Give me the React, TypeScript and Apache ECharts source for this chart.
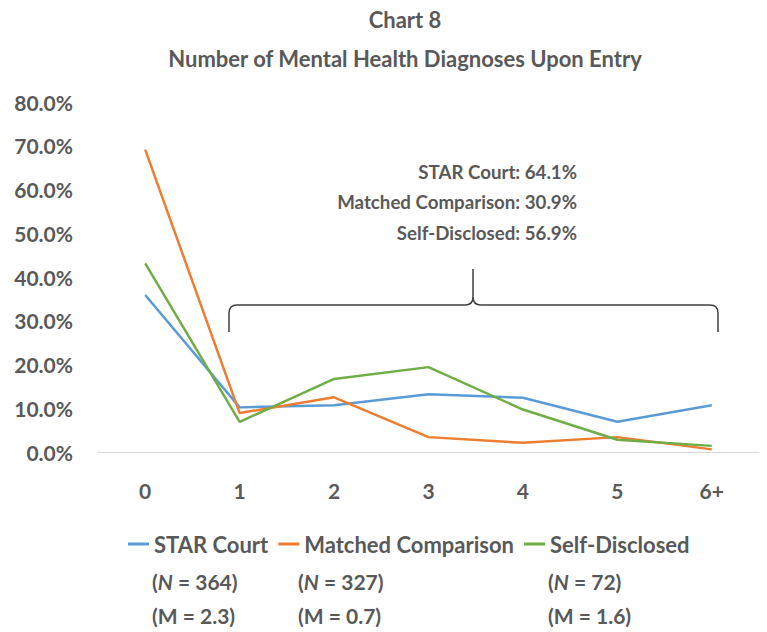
import React, { useEffect, useRef } from "react";
import * as echarts from "echarts";

const categories = ["0", "1", "2", "3", "4", "5", "6+"];
const seriesNames = ["STAR Court", "Matched Comparison", "Self-Disclosed"];
const starCourt = [35.9, 10.2, 10.7, 13.2, 12.4, 6.9, 10.7];
const matched = [69.1, 8.9, 12.5, 3.4, 2.1, 3.4, 0.6];
const selfDisclosed = [43.1, 6.9, 16.7, 19.4, 9.7, 2.8, 1.4];
const sampleN = [364, 327, 72];
const meanM = [2.3, 0.7, 1.6];
const bracketTotals = [64.1, 30.9, 56.9];
const colors = ["#5B9BD5", "#ED7D31", "#70AD47"];

const FONT = "Lato, 'Open Sans', sans-serif";
const TXT = "#595959";
const FS = 21;

const braceD =
  "M229 332 L229 313 Q229 305 237 305 L465 305 Q473 305 473 297 L473 269 M473 297 Q473 305 481 305 L710 305 Q718 305 718 313 L718 332";

let registered = false;

export default function App() {
  const ref = useRef<HTMLDivElement>(null);
  useEffect(() => {
    if (!registered) {
      echarts.graphic.registerShape("brace", echarts.graphic.extendPath(braceD, {}));
      registered = true;
    }
    const chart = echarts.init(ref.current!, null, { renderer: "svg" });
    const legendX = [152, 298, 548];
    const graphic: any[] = [];
    legendX.forEach((x, i) => {
      graphic.push({
        type: "text",
        x,
        y: 581,
        style: {
          text: `{p|(}{i|N}{p| = ${sampleN[i]})}`,
          textVerticalAlign: "middle",
          rich: {
            p: { fontFamily: FONT, fontSize: FS, fontWeight: "bold", fill: TXT },
            i: { fontFamily: FONT, fontSize: FS, fontWeight: "bold", fontStyle: "italic", fill: TXT },
          },
        },
      });
      graphic.push({
        type: "text",
        x,
        y: 615,
        style: {
          text: `(M = ${meanM[i]})`,
          fontFamily: FONT,
          fontSize: FS,
          fontWeight: "bold",
          fill: TXT,
          textVerticalAlign: "middle",
        },
      });
    });
    const annY = [172, 202, 233];
    seriesNames.forEach((n, i) => {
      graphic.push({
        type: "text",
        x: 577,
        y: annY[i],
        style: {
          text: `${n}: ${bracketTotals[i].toFixed(1)}%`,
          fontFamily: FONT,
          fontSize: 18.7,
          fontWeight: "bold",
          fill: TXT,
          textAlign: "right",
          textVerticalAlign: "middle",
        },
      });
    });
    graphic.push({
      type: "brace",
      x: 0,
      y: 0,
      style: { stroke: "#404040", fill: "none", lineWidth: 1.5 },
    });

    chart.setOption({
      animation: false,
      title: {
        text: "Chart 8\nNumber of Mental Health Diagnoses Upon Entry",
        left: 400,
        textAlign: "center",
        top: -5,
        textStyle: { fontFamily: FONT, fontSize: 22, fontWeight: "bold", color: TXT, lineHeight: 39 },
      },
      grid: { left: 98, right: 8, top: 102, bottom: 180 },
      legend: {
        data: seriesNames,
        left: 128,
        top: 533,
        width: 635,
        padding: 0,
        itemGap: 10,
        itemWidth: 21,
        itemHeight: 3,
        icon: "rect",
        textStyle: { fontFamily: FONT, fontSize: 22, fontWeight: "bold", color: TXT },
      },
      xAxis: {
        type: "category",
        data: categories,
        boundaryGap: true,
        axisLine: { lineStyle: { color: "#D9D9D9", width: 1 } },
        axisTick: { show: false },
        axisLabel: { fontFamily: FONT, fontSize: FS, fontWeight: "bold", color: TXT, margin: 28 },
      },
      yAxis: {
        type: "value",
        min: 0,
        max: 80,
        interval: 10,
        splitLine: { show: false },
        axisLine: { show: false },
        axisTick: { show: false },
        axisLabel: {
          fontFamily: FONT,
          fontSize: FS,
          fontWeight: "bold",
          color: TXT,
          margin: 25,
          formatter: (v: number) => v.toFixed(1) + "%",
        },
      },
      series: [starCourt, matched, selfDisclosed].map((d, i) => ({
        name: seriesNames[i],
        type: "line",
        data: d,
        symbol: "none",
        lineStyle: { color: colors[i], width: 2.5 },
        itemStyle: { color: colors[i] },
      })),
      graphic,
    });
    return () => chart.dispose();
  }, []);
  return <div ref={ref} style={{ width: 767, height: 632, position: "absolute", left: 0, top: 0 }} />;
}
